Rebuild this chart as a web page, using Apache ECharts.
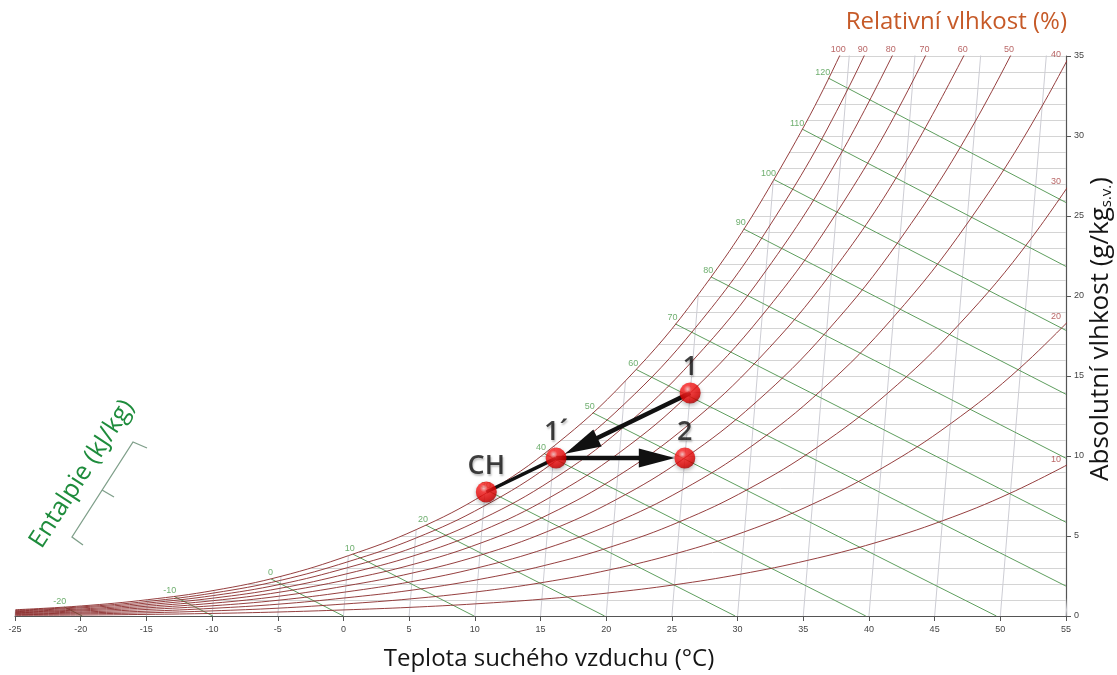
<!DOCTYPE html>
<html><head><meta charset="utf-8">
<script src="https://cdn.jsdelivr.net/npm/echarts@6/dist/echarts.min.js"></script>
<style>html,body{margin:0;padding:0;background:#fff}#c{width:1117px;height:675px}</style>
</head><body><div id="c"></div>
<script>
// ---- data ----
const temps = [-25,-20,-15,-10,-5,0,5,10,15,20,25,30,35,40,45,50,55];
const rhLevels = [100,90,80,70,60,50,40,30,20,10];
const rh100 = [0.39,0.63,1.02,1.60,2.48,3.77,5.40,7.63,10.65,14.70,20.09,27.21,36.58,48.89,65.0,86.2,114.5];
const rh90  = [0.35,0.57,0.91,1.44,2.23,3.39,4.86,6.86,9.57,13.20,18.02,24.38,32.73,43.66];
const rh80  = [0.31,0.51,0.81,1.28,1.98,3.02,4.31,6.09,8.49,11.70,15.97,21.58,28.93,38.51];
const rh70  = [0.27,0.44,0.71,1.12,1.73,2.64,3.77,5.32,7.42,10.22,13.93,18.80,25.17,33.44,44.15];
const rh60  = [0.23,0.38,0.61,0.96,1.49,2.26,3.23,4.56,6.35,8.74,11.90,16.05,21.45,28.44,37.47];
const rh50  = [0.20,0.32,0.51,0.80,1.24,1.88,2.69,3.79,5.28,7.26,9.88,13.31,17.77,23.52,30.91,40.37];
const rh40  = [0.16,0.25,0.41,0.64,0.99,1.50,2.15,3.03,4.22,5.80,7.88,10.61,14.14,18.68,24.49,31.88,41.27];
const rh30  = [0.12,0.19,0.30,0.48,0.74,1.13,1.61,2.27,3.16,4.34,5.89,7.92,10.54,13.90,18.19,23.61,30.44];
const rh20  = [0.08,0.13,0.20,0.32,0.49,0.75,1.07,1.51,2.10,2.89,3.92,5.26,6.99,9.20,12.01,15.54,19.97];
const rh10  = [0.04,0.06,0.10,0.16,0.25,0.38,0.54,0.76,1.05,1.44,1.95,2.62,3.48,4.57,5.95,7.68,9.83];

// humidity grid lines (g/kg) and the dew-point temperature where each starts
const gridW = [1,2,3,4,5,6,7,8,9,10,11,12,13,14,15,16,17,18,19,20,21,22,23,24,25,26,27,28,29,30,31,32,33,34,35];
const dewT  = [-15.15,-7.44,-2.72,0.79,3.90,6.49,8.73,10.69,12.45,14.04,15.49,16.83,18.07,19.23,20.31,21.34,22.31,23.23,24.10,24.93,25.72,26.48,27.21,27.92,28.59,29.24,29.87,30.47,31.07,31.63,32.19,32.72,33.24,33.75,34.26];

// enthalpy lines (kJ/kg): start on saturation curve, end on bottom/right edge
const enthalpyH  = [-20,-10,0,10,20,30,40,50,60,70,80,90,100,110,120];
const enthStartT = [-21.3,-13.0,-5.75,0.33,5.71,10.31,14.26,17.71,20.74,23.45,25.87,28.05,30.04,31.88,33.55];
const enthStartW = [0.56,1.22,2.32,3.87,5.68,7.79,10.15,12.70,15.41,18.25,21.19,24.19,27.28,30.43,33.62];
const enthEndT   = [-19.88,-9.94,0,9.94,19.88,29.82,39.76,49.70,54.81,54.41,54.01,53.61,53.21,52.81,52.42];
const enthEndW   = [0,0,0,0,0,0,0,0,1.87,5.86,9.86,13.86,17.85,21.85,25.84];

// process points
const ptName = ['1','1´','2','CH'];
const ptT    = [25, 15.2, 25, 10.1];
const ptW    = [13.94, 9.87, 9.87, 7.75];
const pathSeg = [[0,1,1],[1,2,1],[3,1,0]]; // from, to, arrowhead

const xTicks = {min:-25, max:55, step:5};
const yTicks = {min:0, max:35, step:5};

// ---- chart construction ----
const SKEW = 0.1; // dry-bulb isotherms lean right with humidity ratio
const P = (t, w) => [t + SKEW * w, w];
const rhAll = [rh100,rh90,rh80,rh70,rh60,rh50,rh40,rh30,rh20,rh10];

function exitPoint(pts){
  for (let i = 1; i < pts.length; i++){
    const a = pts[i-1], b = pts[i];
    if (a[1] < 35 && b[1] >= 35){
      const f = (35 - a[1]) / (b[1] - a[1]);
      const x = a[0] + f * (b[0] - a[0]);
      if (x <= 55) return {p:[x,35], side:'top'};
    }
    if (a[0] < 55 && b[0] >= 55){
      const f = (55 - a[0]) / (b[0] - a[0]);
      return {p:[55, a[1] + f * (b[1] - a[1])], side:'right'};
    }
  }
  return null;
}

const hidden = {color:'rgba(0,0,0,0)'};
const series = [];
series.push({type:'lines', coordinateSystem:'cartesian2d', silent:true, z:1, animation:false,
  data: gridW.map((w,k)=>({coords:[P(dewT[k], w), [55, w]]})),
  lineStyle:{color:'#d4d4d4', width:1, opacity:1}});
series.push({type:'lines', coordinateSystem:'cartesian2d', silent:true, z:1, animation:false,
  data: temps.map((t,i)=>({coords:[P(t,0), P(t, rh100[i])]})),
  lineStyle:{color:'#cdcdd4', width:1, opacity:1}});
series.push({type:'lines', coordinateSystem:'cartesian2d', silent:true, z:2, animation:false,
  data: enthalpyH.map((h,i)=>({coords:[P(enthStartT[i],enthStartW[i]), P(enthEndT[i],enthEndW[i])]})),
  lineStyle:{color:'#5e9e5e', width:1, opacity:1}});
series.push({type:'scatter', silent:true, z:6, animation:false, symbolSize:2, itemStyle:hidden,
  data: enthalpyH.map((h,i)=>({name:String(h), value:P(enthStartT[i],enthStartW[i])})),
  label:{show:true, formatter:'{b}', position:'left', distance:0, offset:[3,-6], fontSize:9,
    fontFamily:'Liberation Sans', color:'#4a9a4a'}});
const rhLabelData = [];
rhAll.forEach((arr,k)=>{
  const pts = arr.map((w,i)=>P(temps[i], w));
  series.push({type:'line', data:pts, smooth:0.4, symbol:'none', silent:true,
    z:3, animation:false, lineStyle:{color:'#8a2a2a', width:1, opacity:0.9}});
  const e = exitPoint(pts);
  if (e) rhLabelData.push({name:String(rhLevels[k]), value:e.p,
    label: e.side === 'top' ? {position:'top', distance:1, offset:[0,0]} : {position:'left', distance:4, offset:[0,-6]}});
});
series.push({type:'scatter', silent:true, z:6, animation:false, symbolSize:2, itemStyle:hidden,
  data: rhLabelData,
  label:{show:true, formatter:'{b}', fontSize:9, fontFamily:'Liberation Sans', color:'#a84040'}});
series.push({type:'custom', coordinateSystem:'cartesian2d', z:8, animation:false, silent:true,
  data: pathSeg.map(s=>[...P(ptT[s[0]],ptW[s[0]]), ...P(ptT[s[1]],ptW[s[1]]), s[2]]),
  renderItem:(params, api)=>{
    const a = api.coord([api.value(0), api.value(1)]);
    const b = api.coord([api.value(2), api.value(3)]);
    const head = api.value(4);
    if (!head) return {type:'line', shape:{x1:a[0],y1:a[1],x2:b[0],y2:b[1]}, style:{stroke:'#111', lineWidth:3.5}};
    const dx=b[0]-a[0], dy=b[1]-a[1], L=Math.hypot(dx,dy), ux=dx/L, uy=dy/L;
    const r=10, hl=36, hw=9.5;
    const tip=[b[0]-ux*r, b[1]-uy*r];
    const base=[tip[0]-ux*hl, tip[1]-uy*hl];
    return {type:'group', children:[
      {type:'line', shape:{x1:a[0],y1:a[1],x2:base[0]+ux*3,y2:base[1]+uy*3}, style:{stroke:'#111', lineWidth:4.5}},
      {type:'polygon', shape:{points:[tip,[base[0]-uy*hw, base[1]+ux*hw],[base[0]+uy*hw, base[1]-ux*hw]]}, style:{fill:'#111'}}
    ]};
  }});
series.push({type:'scatter', z:10, animation:false, silent:true, symbolSize:21,
  data: ptName.map((n,i)=>({name:n, value:P(ptT[i], ptW[i])})),
  itemStyle:{color:{type:'radial', x:0.38, y:0.32, r:0.75, colorStops:[
      {offset:0, color:'#ffc0c0'},{offset:0.25, color:'#ff2424'},{offset:0.75, color:'#e00000'},{offset:1, color:'#940000'}]},
    shadowColor:'rgba(0,0,0,0.35)', shadowBlur:4, shadowOffsetY:2},
  label:{show:true, formatter:'{b}', position:'top', distance:2, fontSize:27, lineHeight:26, fontWeight:600,
    fontFamily:'Open Sans', color:'#111', textShadowColor:'rgba(0,0,0,0.3)', textShadowBlur:2,
    textShadowOffsetX:1, textShadowOffsetY:2}});

const axisLab = {fontSize:9, fontFamily:'Liberation Sans', color:'#444'};
const option = {
  animation:false,
  backgroundColor:'#fff',
  grid:{left:15, right:51, top:56, bottom:59},
  xAxis:{type:'value', min:xTicks.min, max:xTicks.max, interval:xTicks.step,
    axisLine:{show:true, onZero:false, lineStyle:{color:'#555', width:1.2}},
    axisTick:{show:true, length:5, lineStyle:{color:'#555'}},
    axisLabel:Object.assign({margin:9}, axisLab), splitLine:{show:false}},
  yAxis:{type:'value', position:'right', min:yTicks.min, max:yTicks.max, interval:yTicks.step,
    axisLine:{show:true, onZero:false, lineStyle:{color:'#555', width:1.2}},
    axisTick:{show:true, length:5, lineStyle:{color:'#555'}},
    axisLabel:Object.assign({margin:8}, axisLab), splitLine:{show:false}},
  series,
  graphic:[
    {type:'text', x:1067, y:22, silent:true, style:{text:'Relativní vlhkost (%)', fontSize:24, fontFamily:'Open Sans',
      fill:'#c65a28', align:'right', verticalAlign:'middle', textAlign:'right', textVerticalAlign:'middle'}},
    {type:'text', x:549, y:659, silent:true, style:{text:'Teplota suchého vzduchu (°C)', fontSize:24, fontFamily:'Open Sans',
      fill:'#151515', align:'center', verticalAlign:'middle', textAlign:'center', textVerticalAlign:'middle'}},
    {type:'text', x:1101, y:329, rotation:Math.PI/2, silent:true, style:{text:'Absolutní vlhkost (g/kg{s|s.v.})', fontSize:26,
      fontFamily:'Open Sans', fill:'#151515', align:'center', verticalAlign:'middle', textAlign:'center', textVerticalAlign:'middle',
      rich:{s:{fontSize:15, fontFamily:'Open Sans', fill:'#151515', verticalAlign:'bottom', padding:[8,0,0,0]}}}},
    {type:'text', x:82, y:474, rotation:57*Math.PI/180, silent:true, style:{text:'Entalpie (kJ/kg)', fontSize:25,
      fontFamily:'Open Sans', fill:'#1e8c3c', align:'center', verticalAlign:'middle', textAlign:'center', textVerticalAlign:'middle'}},
    {type:'polyline', silent:true, shape:{points:[[83,545],[72,537],[133,442],[147,448]]}, style:{stroke:'#7f9f8a', lineWidth:1.3, fill:null}},
    {type:'line', silent:true, shape:{x1:102,y1:490,x2:114,y2:497}, style:{stroke:'#7f9f8a', lineWidth:1.3}}
  ]
};
const chart = echarts.init(document.getElementById('c'), null, {renderer:'canvas'});
chart.setOption(option);
</script></body></html>
